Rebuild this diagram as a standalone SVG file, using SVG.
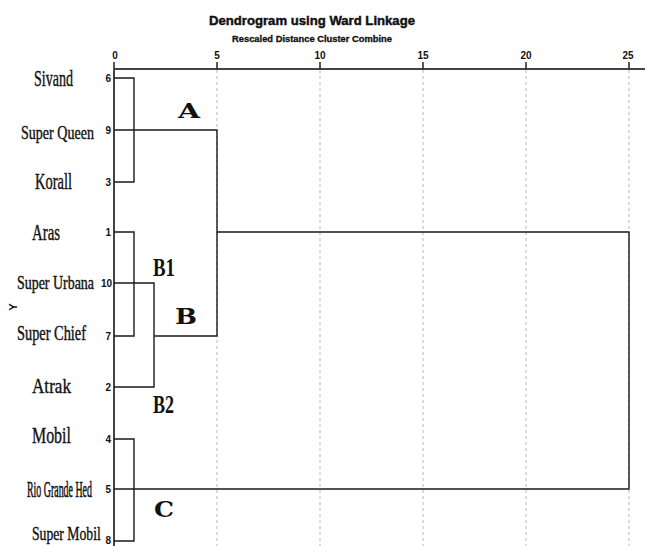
<svg xmlns="http://www.w3.org/2000/svg" width="645" height="546" viewBox="0 0 645 546">
<style>
.bg{fill:#ffffff}
.title{font-family:"Liberation Sans",Arial,sans-serif;font-weight:bold;fill:#111;stroke:#111;stroke-width:0.45}
.tick{font-family:"Liberation Sans",Arial,sans-serif;font-weight:bold;font-size:10px;fill:#111;text-anchor:middle}
.num{font-family:"Liberation Sans",Arial,sans-serif;font-weight:bold;font-size:10px;fill:#111;text-anchor:end}
.leaf{font-family:"Liberation Serif","Times New Roman",serif;fill:#111;stroke:#111;stroke-width:0.4}
.clab{font-family:"DejaVu Serif","Liberation Serif",serif;font-weight:bold;fill:#111}
.clabc{font-family:"Liberation Serif","Times New Roman",serif;font-weight:bold;fill:#111}
.grid{stroke:#c4c4c4;stroke-width:1.2;stroke-dasharray:3 3;fill:none}
.axis{stroke:#444;stroke-width:2;fill:none}
.tk{stroke:#222;stroke-width:1.5;fill:none}
.ln{stroke:#1a1a1a;stroke-width:1.4;fill:none}
</style>
<rect class="bg" x="0" y="0" width="645" height="546"/>
<g id="title">
<text class="title" x="312" y="25" font-size="13.5" text-anchor="middle" textLength="206" lengthAdjust="spacingAndGlyphs">Dendrogram using Ward Linkage</text>
<text class="title" x="312" y="42" font-size="8.5" text-anchor="middle" textLength="160" lengthAdjust="spacingAndGlyphs" style="stroke-width:0.3">Rescaled Distance Cluster Combine</text>
</g>
<g id="grid">
<line class="grid" x1="217" y1="70" x2="217" y2="546"/>
<line class="grid" x1="320" y1="70" x2="320" y2="546"/>
<line class="grid" x1="423" y1="70" x2="423" y2="546"/>
<line class="grid" x1="526" y1="70" x2="526" y2="546"/>
<line class="grid" x1="629" y1="70" x2="629" y2="546"/>
</g>
<g id="axis">
<line class="axis" x1="114" y1="69" x2="645" y2="69"/>
<line class="axis" x1="114" y1="69" x2="114" y2="546"/>
<line class="tk" x1="114" y1="62" x2="114" y2="69"/>
<line class="tk" x1="217" y1="62" x2="217" y2="69"/>
<line class="tk" x1="320" y1="62" x2="320" y2="69"/>
<line class="tk" x1="423" y1="62" x2="423" y2="69"/>
<line class="tk" x1="526" y1="62" x2="526" y2="69"/>
<line class="tk" x1="629" y1="62" x2="629" y2="69"/>
<text class="tick" x="115" y="59">0</text>
<text class="tick" x="217" y="59">5</text>
<text class="tick" x="320" y="59">10</text>
<text class="tick" x="423" y="59">15</text>
<text class="tick" x="526" y="59">20</text>
<text class="tick" x="628" y="59">25</text>
<text x="17" y="307" font-family="Liberation Sans,Arial,sans-serif" font-weight="bold" font-size="11" fill="#111" text-anchor="middle" transform="rotate(-90 17 307)">Y</text>
</g>
<g id="connectors">
<polyline class="ln" points="114,78 134,78 134,182 114,182"/>
<polyline class="ln" points="114,130 217,130 217,336 154,336"/>
<polyline class="ln" points="114,232 134,232 134,336 114,336"/>
<polyline class="ln" points="114,283 154,283 154,387 114,387"/>
<polyline class="ln" points="217,232 629,232 629,489 114,489"/>
<polyline class="ln" points="114,439 134,439 134,541 114,541"/>
</g>
<g id="leaf-sivand"><text class="leaf" transform="translate(34 86) scale(0.61 1)" font-size="23" textLength="64" lengthAdjust="spacingAndGlyphs">Sivand</text><text class="num" x="111" y="82">6</text></g>
<g id="leaf-superqueen"><text class="leaf" transform="translate(21 139) scale(0.74 1)" font-size="19" textLength="98.6" lengthAdjust="spacingAndGlyphs">Super Queen</text><text class="num" x="111" y="134">9</text></g>
<g id="leaf-korall"><text class="leaf" transform="translate(35 189) scale(0.63 1)" font-size="23" textLength="58.7" lengthAdjust="spacingAndGlyphs">Korall</text><text class="num" x="111" y="186">3</text></g>
<g id="leaf-aras"><text class="leaf" transform="translate(32 240) scale(0.645 1)" font-size="23" textLength="43.4" lengthAdjust="spacingAndGlyphs">Aras</text><text class="num" x="111" y="236">1</text></g>
<g id="leaf-superurbana"><text class="leaf" transform="translate(17 289) scale(0.774 1)" font-size="18" textLength="99.5" lengthAdjust="spacingAndGlyphs">Super Urbana</text><text class="num" x="112" y="287">10</text></g>
<g id="leaf-superchief"><text class="leaf" transform="translate(17 340) scale(0.718 1)" font-size="20" textLength="96.1" lengthAdjust="spacingAndGlyphs">Super Chief</text><text class="num" x="111" y="340">7</text></g>
<g id="leaf-atrak"><text class="leaf" transform="translate(32 393) scale(0.78 1)" font-size="22" textLength="50" lengthAdjust="spacingAndGlyphs">Atrak</text><text class="num" x="111" y="391">2</text></g>
<g id="leaf-mobil"><text class="leaf" transform="translate(32 443) scale(0.66 1)" font-size="24" textLength="59" lengthAdjust="spacingAndGlyphs">Mobil</text><text class="num" x="111" y="443" font-weight="normal">4</text></g>
<g id="leaf-riograndehed"><text class="leaf" transform="translate(27 497) scale(0.413 1)" font-size="24" textLength="157.3" lengthAdjust="spacingAndGlyphs" style="stroke-width:0.6">Rio Grande Hed</text><text class="num" x="111" y="493">5</text></g>
<g id="leaf-supermobil"><text class="leaf" transform="translate(32 540) scale(0.72 1)" font-size="19" textLength="95.5" lengthAdjust="spacingAndGlyphs">Super Mobil</text><text class="num" x="111" y="544">8</text></g>
<g id="label-A"><text class="clab" x="178" y="118" font-size="20" textLength="22" lengthAdjust="spacingAndGlyphs">A</text></g>
<g id="label-B1"><text class="clabc" transform="translate(153 276) scale(0.75 1)" font-size="25" textLength="29.3" lengthAdjust="spacingAndGlyphs">B1</text></g>
<g id="label-B"><text class="clab" x="175" y="324" font-size="22" textLength="22" lengthAdjust="spacingAndGlyphs">B</text></g>
<g id="label-B2"><text class="clabc" transform="translate(153 413) scale(0.72 1)" font-size="25" textLength="29.3" lengthAdjust="spacingAndGlyphs">B2</text></g>
<g id="label-C"><text class="clab" x="154" y="517" font-size="22" textLength="20" lengthAdjust="spacingAndGlyphs">C</text></g>
</svg>
